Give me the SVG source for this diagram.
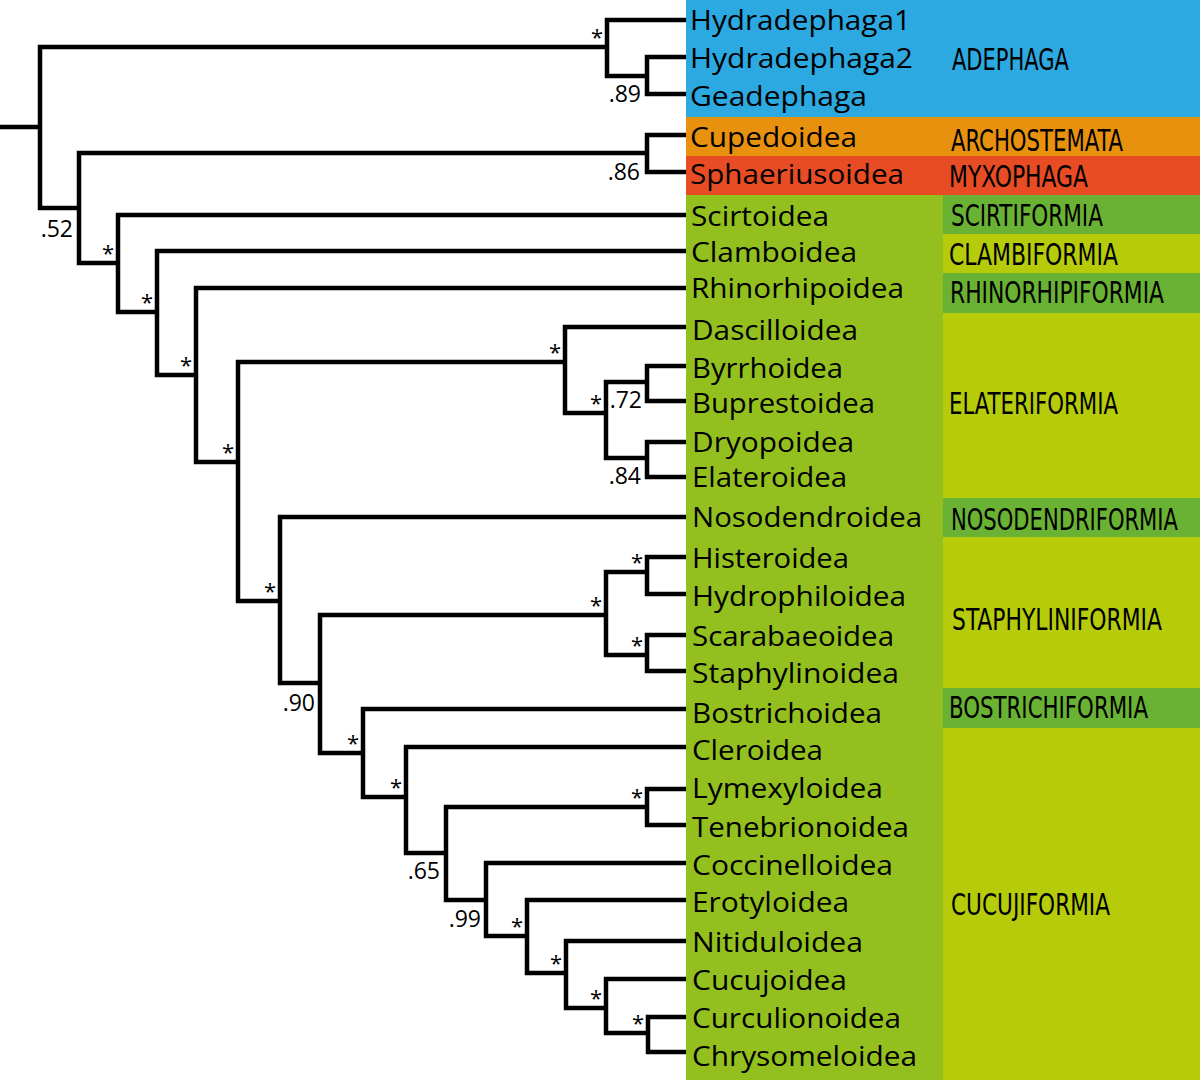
<svg xmlns="http://www.w3.org/2000/svg" width="1200" height="1080" viewBox="0 0 1200 1080">
<style>
.br{fill:none;stroke:#000;stroke-width:4.5;stroke-linejoin:miter;stroke-linecap:butt}
.lf{font-family:"Open Sans","Noto Sans","Liberation Sans",sans-serif;font-size:28px;fill:#000}
.gp{font-family:"Liberation Sans Narrow","DejaVu Sans Condensed","Liberation Sans",sans-serif;font-size:30px;fill:#000}
.st{font-family:"Open Sans","Liberation Sans",sans-serif;font-size:22px;fill:#000;text-anchor:middle}
.sp{font-family:"Open Sans","Liberation Sans",sans-serif;font-size:23px;fill:#000;text-anchor:end}
.blue{fill:#2CA9E1}.orange{fill:#E8910E}.red{fill:#E84C24}.lgreen{fill:#93C01F}.dgreen{fill:#6AB233}.yg{fill:#B6CC0A}
</style>
<rect width="1200" height="1080" fill="#fff"/>
<g id="panels">
<rect class="blue" x="686" y="0" width="514" height="117"/>
<rect class="orange" x="686" y="117" width="514" height="39"/>
<rect class="red" x="686" y="156" width="514" height="39"/>
<rect class="lgreen" x="686" y="195" width="257" height="885"/>
</g>
<g id="group-labels">
<g id="ADEPHAGA"><text class="gp" transform="translate(952 70) scale(0.85 1)" textLength="137.6" lengthAdjust="spacingAndGlyphs">ADEPHAGA</text></g>
<g id="ARCHOSTEMATA"><text class="gp" transform="translate(951 151) scale(0.85 1)" textLength="202.4" lengthAdjust="spacingAndGlyphs">ARCHOSTEMATA</text></g>
<g id="MYXOPHAGA"><text class="gp" transform="translate(949 187) scale(0.85 1)" textLength="163.5" lengthAdjust="spacingAndGlyphs">MYXOPHAGA</text></g>
<g id="SCIRTIFORMIA"><rect class="dgreen" x="943" y="195" width="257" height="39"/><text class="gp" transform="translate(951 226) scale(0.85 1)" textLength="178.8" lengthAdjust="spacingAndGlyphs">SCIRTIFORMIA</text></g>
<g id="CLAMBIFORMIA"><rect class="yg" x="943" y="234" width="257" height="39"/><text class="gp" transform="translate(949 265) scale(0.85 1)" textLength="198.8" lengthAdjust="spacingAndGlyphs">CLAMBIFORMIA</text></g>
<g id="RHINORHIPIFORMIA"><rect class="dgreen" x="943" y="273" width="257" height="40"/><text class="gp" transform="translate(950 303) scale(0.85 1)" textLength="251.8" lengthAdjust="spacingAndGlyphs">RHINORHIPIFORMIA</text></g>
<g id="ELATERIFORMIA"><rect class="yg" x="943" y="313" width="257" height="185"/><text class="gp" transform="translate(949 414) scale(0.85 1)" textLength="198.8" lengthAdjust="spacingAndGlyphs">ELATERIFORMIA</text></g>
<g id="NOSODENDRIFORMIA"><rect class="dgreen" x="943" y="498" width="257" height="39"/><text class="gp" transform="translate(951 530) scale(0.85 1)" textLength="267" lengthAdjust="spacingAndGlyphs">NOSODENDRIFORMIA</text></g>
<g id="STAPHYLINIFORMIA"><rect class="yg" x="943" y="537" width="257" height="151"/><text class="gp" transform="translate(952 630) scale(0.85 1)" textLength="247" lengthAdjust="spacingAndGlyphs">STAPHYLINIFORMIA</text></g>
<g id="BOSTRICHIFORMIA"><rect class="dgreen" x="943" y="688" width="257" height="40"/><text class="gp" transform="translate(949 718) scale(0.85 1)" textLength="234.1" lengthAdjust="spacingAndGlyphs">BOSTRICHIFORMIA</text></g>
<g id="CUCUJIFORMIA"><rect class="yg" x="943" y="728" width="257" height="352"/><text class="gp" transform="translate(951 915) scale(0.85 1)" textLength="187.1" lengthAdjust="spacingAndGlyphs">CUCUJIFORMIA</text></g>
</g>
<g id="connectors">
<path class="br" d="M0 127H40"/>
<path class="br" d="M607 47H40V208H79"/>
<path class="br" d="M686 20H607V76H647"/>
<path class="br" d="M686 57H647V94H686"/>
<path class="br" d="M647 153H79V263H118"/>
<path class="br" d="M686 135H647V172H686"/>
<path class="br" d="M686 215H118V312H157"/>
<path class="br" d="M686 251H157V375H196"/>
<path class="br" d="M686 288H196V462H238"/>
<path class="br" d="M565 362H238V601H280"/>
<path class="br" d="M686 327H565V413H606"/>
<path class="br" d="M647 382H606V458H647"/>
<path class="br" d="M686 366H647V401H686"/>
<path class="br" d="M686 442H647V477H686"/>
<path class="br" d="M686 517H280V683H320"/>
<path class="br" d="M606 615H320V753H363"/>
<path class="br" d="M647 572H606V655H647"/>
<path class="br" d="M686 557H647V594H686"/>
<path class="br" d="M686 635H647V671H686"/>
<path class="br" d="M686 709H363V797H406"/>
<path class="br" d="M686 747H406V853H446"/>
<path class="br" d="M647 807H446V900H486"/>
<path class="br" d="M686 789H647V825H686"/>
<path class="br" d="M686 863H486V936H527"/>
<path class="br" d="M686 900H527V973H566"/>
<path class="br" d="M686 941H566V1008H606"/>
<path class="br" d="M686 979H606V1033H648"/>
<path class="br" d="M686 1017H648V1052H686"/>
</g>
<g id="support">
<g id="n-adephaga"><text class="st" x="597" y="45">*</text></g>
<g id="n-hyd2-gea"><text class="sp" x="641" y="102">.89</text></g>
<g id="n-coleoptera-rest"><text class="sp" x="73" y="237">.52</text></g>
<g id="n-cup-sph"><text class="sp" x="640" y="180">.86</text></g>
<g id="n-polyphaga"><text class="st" x="108" y="261">*</text></g>
<g id="n-p2"><text class="st" x="147" y="310">*</text></g>
<g id="n-p3"><text class="st" x="186" y="373">*</text></g>
<g id="n-p4"><text class="st" x="228" y="460">*</text></g>
<g id="n-elateriformia"><text class="st" x="555" y="360">*</text></g>
<g id="n-e2"><text class="st" x="596" y="411">*</text></g>
<g id="n-e2a"><text class="sp" x="642" y="408">.72</text></g>
<g id="n-e2b"><text class="sp" x="641" y="484">.84</text></g>
<g id="n-p5"><text class="st" x="270" y="599">*</text></g>
<g id="n-p6"><text class="sp" x="315" y="711">.90</text></g>
<g id="n-staph"><text class="st" x="596" y="613">*</text></g>
<g id="n-sa"><text class="st" x="637" y="570">*</text></g>
<g id="n-sb"><text class="st" x="637" y="653">*</text></g>
<g id="n-p7"><text class="st" x="353" y="751">*</text></g>
<g id="n-p8"><text class="st" x="396" y="795">*</text></g>
<g id="n-lym-ten"><text class="st" x="637" y="805">*</text></g>
<g id="n-p9"><text class="sp" x="440" y="879">.65</text></g>
<g id="n-p10"><text class="sp" x="481" y="927">.99</text></g>
<g id="n-p11"><text class="st" x="517" y="934">*</text></g>
<g id="n-p12"><text class="st" x="556" y="971">*</text></g>
<g id="n-p13"><text class="st" x="596" y="1006">*</text></g>
<g id="n-p14"><text class="st" x="638" y="1031">*</text></g>
</g>
<g id="leaves">
<g id="Hydradephaga1"><text class="lf" x="690" y="30" textLength="221" lengthAdjust="spacingAndGlyphs">Hydradephaga1</text></g>
<g id="Hydradephaga2"><text class="lf" x="690" y="68" textLength="223" lengthAdjust="spacingAndGlyphs">Hydradephaga2</text></g>
<g id="Geadephaga"><text class="lf" x="690" y="106" textLength="177" lengthAdjust="spacingAndGlyphs">Geadephaga</text></g>
<g id="Cupedoidea"><text class="lf" x="690" y="147" textLength="167" lengthAdjust="spacingAndGlyphs">Cupedoidea</text></g>
<g id="Sphaeriusoidea"><text class="lf" x="690" y="184" textLength="214" lengthAdjust="spacingAndGlyphs">Sphaeriusoidea</text></g>
<g id="Scirtoidea"><text class="lf" x="691" y="226" textLength="138" lengthAdjust="spacingAndGlyphs">Scirtoidea</text></g>
<g id="Clamboidea"><text class="lf" x="691" y="262" textLength="166" lengthAdjust="spacingAndGlyphs">Clamboidea</text></g>
<g id="Rhinorhipoidea"><text class="lf" x="691" y="298" textLength="213" lengthAdjust="spacingAndGlyphs">Rhinorhipoidea</text></g>
<g id="Dascilloidea"><text class="lf" x="692" y="340" textLength="166" lengthAdjust="spacingAndGlyphs">Dascilloidea</text></g>
<g id="Byrrhoidea"><text class="lf" x="692" y="378" textLength="151" lengthAdjust="spacingAndGlyphs">Byrrhoidea</text></g>
<g id="Buprestoidea"><text class="lf" x="692" y="413" textLength="183" lengthAdjust="spacingAndGlyphs">Buprestoidea</text></g>
<g id="Dryopoidea"><text class="lf" x="692" y="452" textLength="162" lengthAdjust="spacingAndGlyphs">Dryopoidea</text></g>
<g id="Elateroidea"><text class="lf" x="692" y="487" textLength="155" lengthAdjust="spacingAndGlyphs">Elateroidea</text></g>
<g id="Nosodendroidea"><text class="lf" x="692" y="527" textLength="230" lengthAdjust="spacingAndGlyphs">Nosodendroidea</text></g>
<g id="Histeroidea"><text class="lf" x="692" y="568" textLength="157" lengthAdjust="spacingAndGlyphs">Histeroidea</text></g>
<g id="Hydrophiloidea"><text class="lf" x="692" y="606" textLength="214" lengthAdjust="spacingAndGlyphs">Hydrophiloidea</text></g>
<g id="Scarabaeoidea"><text class="lf" x="692" y="646" textLength="202" lengthAdjust="spacingAndGlyphs">Scarabaeoidea</text></g>
<g id="Staphylinoidea"><text class="lf" x="692" y="683" textLength="207" lengthAdjust="spacingAndGlyphs">Staphylinoidea</text></g>
<g id="Bostrichoidea"><text class="lf" x="692" y="723" textLength="190" lengthAdjust="spacingAndGlyphs">Bostrichoidea</text></g>
<g id="Cleroidea"><text class="lf" x="692" y="760" textLength="131" lengthAdjust="spacingAndGlyphs">Cleroidea</text></g>
<g id="Lymexyloidea"><text class="lf" x="692" y="798" textLength="191" lengthAdjust="spacingAndGlyphs">Lymexyloidea</text></g>
<g id="Tenebrionoidea"><text class="lf" x="692" y="837" textLength="217" lengthAdjust="spacingAndGlyphs">Tenebrionoidea</text></g>
<g id="Coccinelloidea"><text class="lf" x="692" y="875" textLength="201" lengthAdjust="spacingAndGlyphs">Coccinelloidea</text></g>
<g id="Erotyloidea"><text class="lf" x="692" y="912" textLength="157" lengthAdjust="spacingAndGlyphs">Erotyloidea</text></g>
<g id="Nitiduloidea"><text class="lf" x="692" y="952" textLength="171" lengthAdjust="spacingAndGlyphs">Nitiduloidea</text></g>
<g id="Cucujoidea"><text class="lf" x="692" y="990" textLength="155" lengthAdjust="spacingAndGlyphs">Cucujoidea</text></g>
<g id="Curculionoidea"><text class="lf" x="692" y="1028" textLength="209" lengthAdjust="spacingAndGlyphs">Curculionoidea</text></g>
<g id="Chrysomeloidea"><text class="lf" x="692" y="1066" textLength="225" lengthAdjust="spacingAndGlyphs">Chrysomeloidea</text></g>
</g>
</svg>
